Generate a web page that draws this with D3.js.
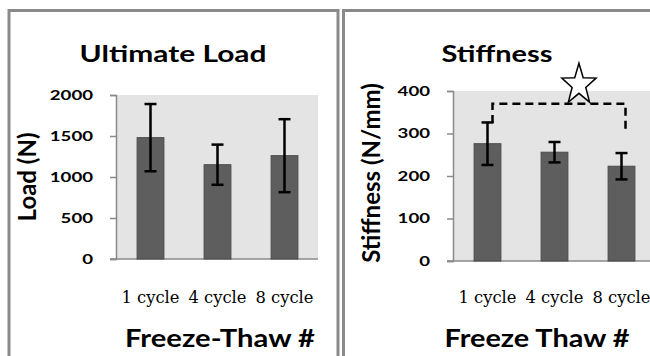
<!DOCTYPE html>
<html>
<head>
<meta charset="utf-8">
<script src="https://cdn.jsdelivr.net/npm/d3@7"></script>
<style>
  body { margin: 0; background: white; }
  svg { display: block; }
  .title { font-family: Lato, "Open Sans", sans-serif; font-weight: bold; }
  .tick text { font-family: Lato, sans-serif; font-weight: bold; }
  .cat { font-family: "DejaVu Serif", "Liberation Serif", serif; }
</style>
</head>
<body>
<div id="chart"></div>
<script>
let width = 650;
let height = 356;

// data
let categories = ["1 cycle", "4 cycle", "8 cycle"];
let loadMean = [1480, 1150, 1260];
let loadErr = [410, 245, 445];
let loadTicks = [0, 500, 1000, 1500, 2000];
let stiffMean = [276, 256, 223];
let stiffErr = [50, 24, 31];
let stiffTicks = [0, 100, 200, 300, 400];
// significance bracket between 1 cycle and 8 cycle
let bracketPair = ["1 cycle", "8 cycle"];
let bracketLevel = 370;
let bracketDrop = [325, 303];

let svg = d3.select("#chart").append("svg")
    .attr("width", width)
    .attr("height", height);

// panel frames
svg.append("rect")
    .attr("x", 9).attr("y", 10.5)
    .attr("width", 329).attr("height", 400)
    .attr("fill", "none")
    .attr("stroke", "#8a8a8a")
    .attr("stroke-width", 3);
svg.append("rect")
    .attr("x", 343.5).attr("y", 10.5)
    .attr("width", 400).attr("height", 400)
    .attr("fill", "none")
    .attr("stroke", "#8a8a8a")
    .attr("stroke-width", 3);

// the original picture is stretched sideways, so text gets stretched to the measured widths
function wideText(sel, len){
    sel.attr("textLength", len).attr("lengthAdjust", "spacingAndGlyphs");
}

function drawPanel(opts){
    let x = d3.scaleBand()
        .domain(categories)
        .range([opts.left, opts.left + 201])
        .paddingInner(0.6)
        .paddingOuter(0.3);
    let y = d3.scaleLinear()
        .domain([0, opts.max])
        .range([opts.bottom, opts.top]);

    let g = svg.append("g");

    g.append("rect")
        .attr("x", opts.left)
        .attr("y", opts.top)
        .attr("width", 201)
        .attr("height", opts.bottom - opts.top)
        .attr("fill", "#e4e4e4");

    // y axis
    let yAxis = g.append("g")
        .attr("transform", `translate(${opts.left - 1},0)`)
        .call(d3.axisLeft(y).tickValues(opts.ticks).tickFormat(d3.format("d")).tickSize(6).tickPadding(17));
    yAxis.select(".domain").attr("stroke", "#8a8a8a").attr("stroke-width", 1.5);
    yAxis.selectAll(".tick line").attr("stroke", "#8a8a8a").attr("stroke-width", 1.5);
    yAxis.selectAll(".tick text")
        .attr("font-size", 14)
        .attr("fill", "black")
        .each(function(d){ wideText(d3.select(this), String(d).length * 10.8); });

    // baseline
    g.append("line")
        .attr("x1", opts.left - 7).attr("x2", opts.left + 201)
        .attr("y1", y(0)).attr("y2", y(0))
        .attr("stroke", "#8a8a8a")
        .attr("stroke-width", 1.5);

    g.selectAll(".bar")
        .data(opts.mean)
        .enter()
        .append("rect")
            .attr("class", "bar")
            .attr("x", (d, i) => x(categories[i]))
            .attr("y", d => y(d))
            .attr("width", x.bandwidth())
            .attr("height", d => y(0) - y(d))
            .attr("fill", "#5e5e5e")
            .attr("stroke", "#4a4a4a")
            .attr("stroke-width", 1);

    // error bars
    let eb = g.selectAll(".err")
        .data(opts.mean)
        .enter()
        .append("g")
            .attr("class", "err")
            .attr("stroke", "black")
            .attr("stroke-width", 2.5);
    eb.append("line")
        .attr("x1", (d, i) => x(categories[i]) + x.bandwidth() / 2)
        .attr("x2", (d, i) => x(categories[i]) + x.bandwidth() / 2)
        .attr("y1", (d, i) => y(d + opts.err[i]))
        .attr("y2", (d, i) => y(d - opts.err[i]));
    [1, -1].forEach(s => {
        eb.append("line")
            .attr("x1", (d, i) => x(categories[i]) + x.bandwidth() / 2 - 6)
            .attr("x2", (d, i) => x(categories[i]) + x.bandwidth() / 2 + 6)
            .attr("y1", (d, i) => y(d + s * opts.err[i]))
            .attr("y2", (d, i) => y(d + s * opts.err[i]));
    });

    // category labels
    g.selectAll(".cat")
        .data(categories)
        .enter()
        .append("text")
            .attr("class", "cat")
            .attr("x", d => x(d) + x.bandwidth() / 2)
            .attr("y", 303)
            .attr("text-anchor", "middle")
            .attr("font-size", 16)
            .text(d => d)
            .call(wideText, 58);

    g.append("text")
        .attr("class", "title")
        .attr("x", opts.titleX).attr("y", 62)
        .attr("text-anchor", "middle")
        .attr("font-size", 22)
        .text(opts.title)
        .call(wideText, opts.titleLen);

    g.append("text")
        .attr("class", "title")
        .attr("x", opts.xTitleX).attr("y", 347)
        .attr("text-anchor", "middle")
        .attr("font-size", 24)
        .text(opts.xTitle)
        .call(wideText, opts.xTitleLen);

    g.append("text")
        .attr("class", "title")
        .attr("transform", `translate(${opts.yTitleX},${opts.yTitleY}) rotate(-90)`)
        .attr("text-anchor", "middle")
        .attr("font-size", 24)
        .text(opts.yTitle);

    return {x: x, y: y, g: g};
}

drawPanel({
    left: 117, top: 95, bottom: 259, max: 2000, ticks: loadTicks,
    mean: loadMean, err: loadErr,
    title: "Ultimate Load", titleX: 173, titleLen: 187,
    xTitle: "Freeze-Thaw #", xTitleX: 220, xTitleLen: 190,
    yTitle: "Load (N)", yTitleX: 36, yTitleY: 177
});

let stiff = drawPanel({
    left: 454, top: 91, bottom: 261, max: 400, ticks: stiffTicks,
    mean: stiffMean, err: stiffErr,
    title: "Stiffness", titleX: 497, titleLen: 111,
    xTitle: "Freeze Thaw #", xTitleX: 537, xTitleLen: 185,
    yTitle: "Stiffness (N/mm)", yTitleX: 380, yTitleY: 173
});

// significance bracket
let bx = stiff.x;
let by = stiff.y;
let xa = bx(bracketPair[0]) + bx.bandwidth() / 2 + 5;
let xb = bx(bracketPair[1]) + bx.bandwidth() / 2 + 4;
stiff.g.append("path")
    .attr("d", `M${xa},${by(bracketDrop[0])} V${by(bracketLevel)} H${xb} V${by(bracketDrop[1])}`)
    .attr("fill", "none")
    .attr("stroke", "black")
    .attr("stroke-width", 2.5)
    .attr("stroke-dasharray", "8,5");

// star above the bracket, a bit right of its middle
let starPts = [];
for(let k = 0; k < 10; k++){
    let r = k % 2 == 0 ? 1 : 0.4;
    let a = -Math.PI / 2 + k * Math.PI / 5;
    starPts.push([Math.cos(a) * r * 18, Math.sin(a) * r * 21.5]);
}
stiff.g.append("polygon")
    .attr("transform", `translate(${xa + (xb - xa) * 0.65},${by(bracketLevel) - 19})`)
    .attr("points", starPts.map(p => p.join(",")).join(" "))
    .attr("fill", "white")
    .attr("stroke", "black")
    .attr("stroke-width", 1.5);
</script>
</body>
</html>
